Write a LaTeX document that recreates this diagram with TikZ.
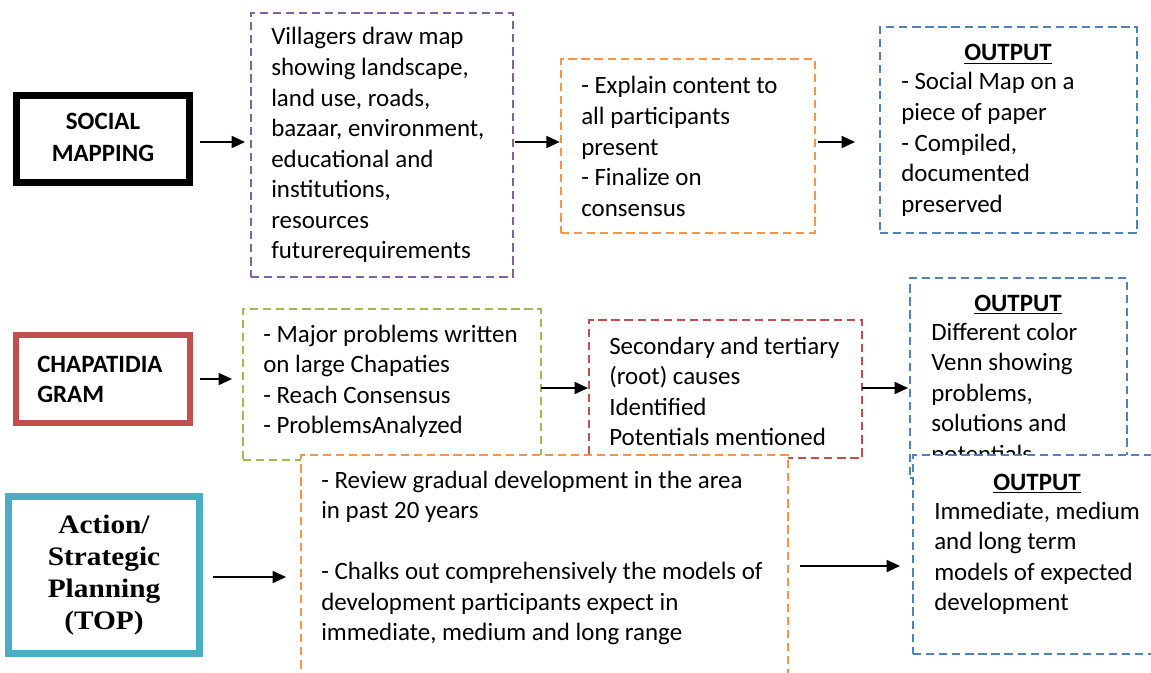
\documentclass[tikz,border=0pt]{standalone}
\usepackage{fontspec}
\setmainfont{Carlito}
\newfontfamily\cambria[FakeStretch=1.1]{Liberation Serif}
\usetikzlibrary{fit,arrows.meta}
\definecolor{cpurple}{HTML}{8064A2}
\definecolor{corange}{HTML}{F79646}
\definecolor{cblue}{HTML}{4F81BD}
\definecolor{cgreen}{HTML}{9BBB59}
\definecolor{cred}{HTML}{C0504D}
\definecolor{ccyan}{HTML}{4BACC6}
\newcommand{\TL}[1]{\begin{tabular}[t]{@{}l@{}}#1\end{tabular}}
\newcommand{\TC}[1]{\begin{tabular}[t]{@{}c@{}}#1\end{tabular}}
\begin{document}
\begin{tikzpicture}[x=0.75pt,y=-0.75pt,
  dbox/.style={draw=#1, line width=1.8pt, dash pattern=on 6.2pt off 3.6pt, inner sep=0pt, outer sep=0pt, fill=white},
  tbox/.style={draw=#1, line width=5pt, inner sep=0pt, outer sep=0pt, fill=white},
  txt/.style={anchor=base west, inner sep=0pt, font=\fontsize{18.7}{22.9}\selectfont},
  outl/.style={anchor=base, inner sep=0pt, font=\fontsize{18.7}{22.9}\selectfont\bfseries},
  head/.style={anchor=base, inner sep=0pt, font=\fontsize{18.7}{24}\selectfont\bfseries},
  arr/.style={line width=1.3pt, -{Triangle[length=10pt,width=9pt]}}
]
\useasboundingbox (0,0) rectangle (1151,673);
\clip (0,0) rectangle (1151,673);

% row 1
\node[tbox=black, line width=5.25pt, fit={(16.5,95.5)(189.5,182.5)}] (sm) {};
\node[head] (smt) at (103,130) {\TC{SOCIAL\\MAPPING}};
\node[dbox=cpurple, fit={(251,13)(513,277)}] (pu) {};
\node[txt] (put) at (271,45) {\TL{Villagers draw map\\showing landscape,\\land use, roads,\\bazaar, environment,\\educational and\\institutions,\\resources\\futurerequirements}};
\node[dbox=corange, fit={(561,59)(815,233)}] (o1) {};
\node[txt] (o1t) at (581,94) {\TL{- Explain content to\\all participants\\present\\- Finalize on\\consensus}};
\node[dbox=cblue, fit={(880,27)(1137,233)}] (b1) {};
\node[outl] (b1h) at (1008,61) {\underline{OUTPUT}};
\node[txt] (b1t) at (901,90) {\TL{- Social Map on a\\piece of paper\\- Compiled,\\documented\\preserved}};

\draw[arr, shorten <=7.5pt, shorten >=4.5pt] (sm.east |- 0,142) -- (pu.west |- 0,142);
\draw[arr, shorten <=1.5pt, shorten >=1pt] (pu.east |- 0,142) -- (o1.west |- 0,142);
\draw[arr, shorten <=2.25pt, shorten >=18.75pt] (o1.east |- 0,142) -- (b1.west |- 0,142);

% row 2
\node[tbox=cred, line width=4.5pt, fit={(16,335)(190,423)}] (ch) {};
\node[head, anchor=base west, font=\fontsize{18.7}{22.5}\selectfont\bfseries] (cht) at (37,372) {\TL{CHAPATIDIA\\GRAM}};
\node[dbox=cgreen, fit={(243,309)(541,460)}] (gr) {};
\node[txt] (grt) at (263,342) {\TL{- Major problems written\\on large Chapaties\\- Reach Consensus\\- ProblemsAnalyzed}};
\node[dbox=cred, fit={(589,320)(862,458)}] (rd) {};
\node[txt] (rdt) at (609,354) {\TL{Secondary and tertiary\\(root) causes\\Identified\\Potentials mentioned}};
\node[dbox=cblue, fit={(910,278)(1127,478)}] (b2) {};
\node[outl] (b2h) at (1018,311) {\underline{OUTPUT}};
\node[txt] (b2t) at (931,340) {\TL{Different color\\Venn showing\\problems,\\solutions and\\potentials}};

\draw[arr, shorten <=7.5pt, shorten >=8.25pt] (ch.east |- 0,379) -- (gr.west |- 0,379);
\draw[arr, shorten >=0.75pt] (gr.east |- 0,388) -- (rd.west |- 0,388);
\draw[arr, shorten >=1.5pt] (rd.east |- 0,388) -- (b2.west |- 0,388);

% row 3
\node[tbox=ccyan, line width=5pt, fit={(8.5,496.5)(199.5,653.5)}] (tp) {};
\node[head, font=\fontsize{20}{24}\selectfont\cambria\bfseries] (tpt) at (104,533) {\TC{Action/\\Strategic\\Planning\\(TOP)}};
\node[dbox=corange, fit={(301,455)(788,700)}] (o3) {};
\node[txt] (o3t) at (321,488) {\TL{- Review gradual development in the area\\in past 20 years\\[22.9pt]- Chalks out comprehensively the models of\\development participants expect in\\immediate, medium and long range}};
\node[dbox=cblue, fit={(913,455)(1175,654)}] (b3) {};
\node[outl] (b3h) at (1037,490) {\underline{OUTPUT}};
\node[txt] (b3t) at (934,519) {\TL{Immediate, medium\\and long term\\models of expected\\development}};

\draw[arr, shorten <=9.75pt, shorten >=11.25pt] (tp.east |- 0,577) -- (o3.west |- 0,577);
\draw[arr, shorten <=9pt, shorten >=9.75pt] (o3.east |- 0,566) -- (b3.west |- 0,566);
\end{tikzpicture}
\end{document}
